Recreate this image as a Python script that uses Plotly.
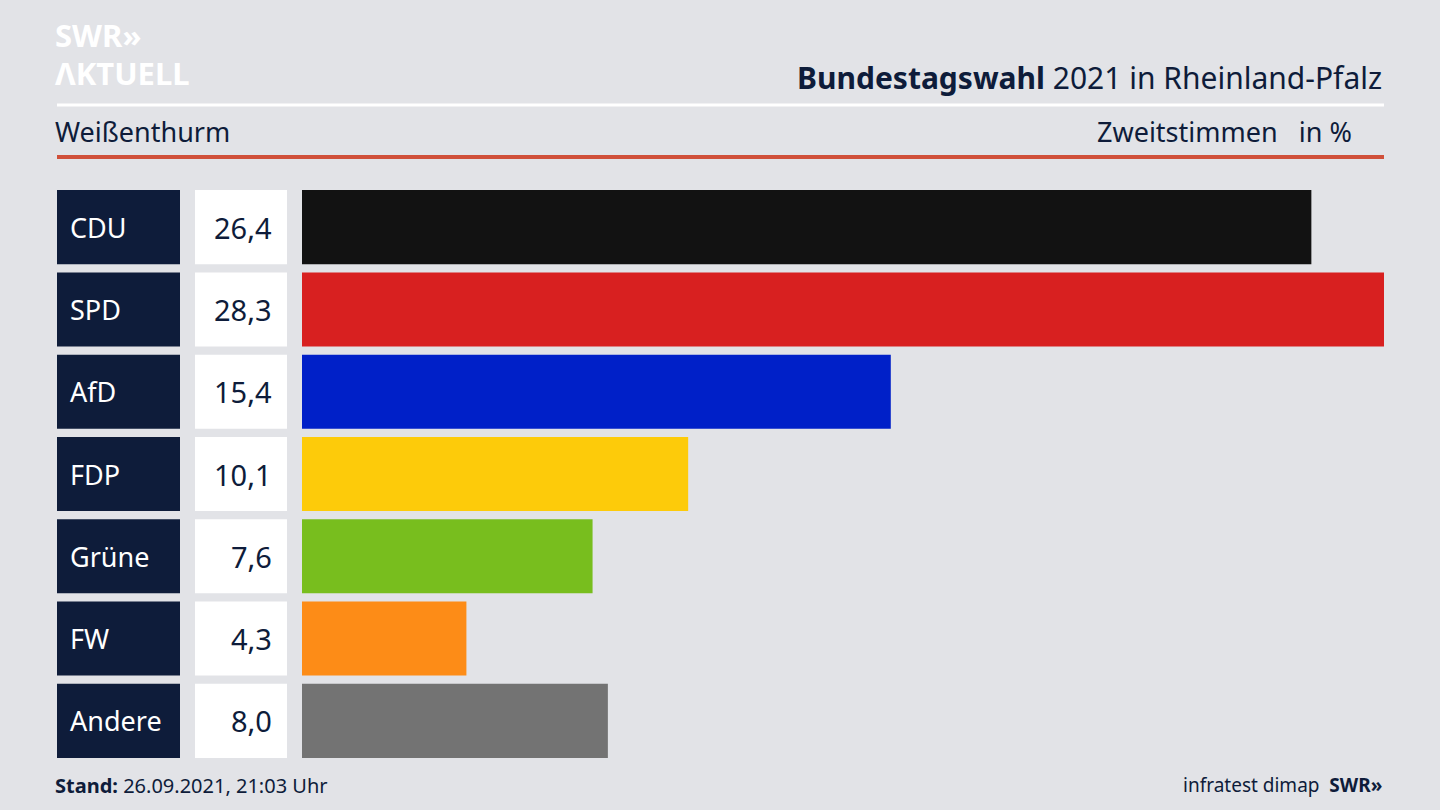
import plotly.graph_objects as go

parties = ["CDU", "SPD", "AfD", "FDP", "Grüne", "FW", "Andere"]
values = [26.4, 28.3, 15.4, 10.1, 7.6, 4.3, 8.0]
labels = ["26,4", "28,3", "15,4", "10,1", "7,6", "4,3", "8,0"]
colors = ["#121212", "#d82020", "#0020c8", "#fdcb0a", "#78be1e", "#fd8c17", "#737373"]

W, H = 1440, 810
NAVY = "#0e1c3a"
FONT = "Noto Sans"

def px(x):
    return x / W

def py(y):
    return 1 - y / H

fig = go.Figure(go.Bar(
    x=values, y=parties, orientation="h", marker_color=colors,
    marker_line_width=0, width=0.9, hoverinfo="skip"))

shapes = []
annotations = []
for i, (p, lab) in enumerate(zip(parties, labels)):
    shapes.append(dict(type="rect", xref="paper", yref="y", x0=px(57), x1=px(180),
                       y0=i - 0.45, y1=i + 0.45,
                       fillcolor=NAVY, line_width=0, layer="below"))
    shapes.append(dict(type="rect", xref="paper", yref="y", x0=px(195), x1=px(287),
                       y0=i - 0.45, y1=i + 0.45,
                       fillcolor="white", line_width=0, layer="below"))
    annotations.append(dict(xref="paper", yref="y", x=px(68), y=p, text=p, showarrow=False,
                            xanchor="left", font=dict(family=FONT, size=27, color="white")))
    annotations.append(dict(xref="paper", yref="y", x=px(274), y=p, text=lab, showarrow=False,
                            xanchor="right", font=dict(family=FONT, size=29, color=NAVY)))

# header lines
shapes.append(dict(type="line", xref="paper", yref="paper", x0=px(57), x1=px(1384),
                   y0=py(105), y1=py(105), line=dict(color="white", width=3)))
shapes.append(dict(type="line", xref="paper", yref="paper", x0=px(57), x1=px(1384),
                   y0=py(157), y1=py(157), line=dict(color="#d0503a", width=4)))

def txt(x, y, s, size, color=NAVY, anchor="left"):
    annotations.append(dict(xref="paper", yref="paper", x=px(x), y=py(y), text=s,
                            showarrow=False, xanchor=anchor, yanchor="middle",
                            font=dict(family=FONT, size=size, color=color)))

txt(53, 35, "<b>SWR»</b>", 31, "white")
txt(53, 73, "<b>ΛKTUELL</b>", 31, "white")
txt(1384, 77, "<b>Bundestagswahl</b> 2021 in Rheinland-Pfalz", 30, NAVY, "right")
txt(53, 131, "Weißenthurm", 27)
txt(1354, 131, "Zweitstimmen   in %", 27, NAVY, "right")
txt(53, 785, "<b>Stand:</b> 26.09.2021, 21:03 Uhr", 20)
txt(1384, 785, "infratest dimap  <b>SWR»</b>", 19, NAVY, "right")

fig.update_layout(
    width=W, height=H, margin=dict(l=0, r=0, t=0, b=0),
    paper_bgcolor="#e2e3e7", plot_bgcolor="rgba(0,0,0,0)",
    showlegend=False, shapes=shapes, annotations=annotations,
    xaxis=dict(domain=[px(302), px(1384)], range=[0, 28.3], visible=False, fixedrange=True),
    yaxis=dict(domain=[py(762), py(186)], range=[6.5, -0.5], visible=False, fixedrange=True),
)
fig.write_html("out.html", config={"displayModeBar": False},
               post_script="document.body.style.margin='0';document.body.style.overflow='hidden';")
